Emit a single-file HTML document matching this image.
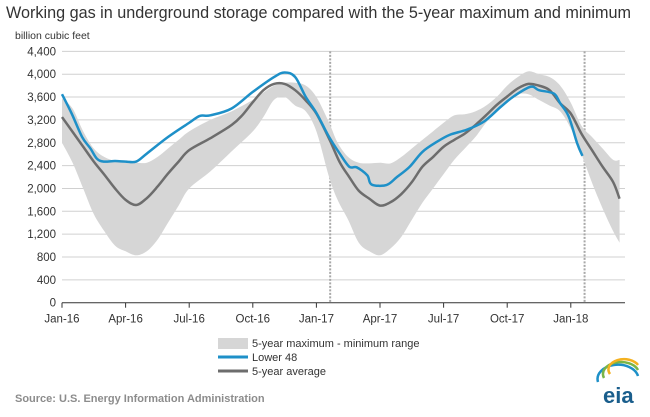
<!DOCTYPE html>
<html><head><meta charset="utf-8"><style>
body{margin:0;background:#fff;width:650px;height:412px;overflow:hidden;font-family:"Liberation Sans",Arial,sans-serif}
svg text{font-family:"Liberation Sans",Arial,sans-serif}
</style></head><body>
<svg id="chart" width="650" height="412">
<text x="6" y="18" font-size="16.2" fill="#333">Working gas in underground storage compared with the 5-year maximum and minimum</text>
<text x="15" y="39" font-size="10.5" fill="#333">billion cubic feet</text>
<g id="grid"></g><g id="band"></g><g id="lines"></g><g id="axes"></g>
<g>
<rect x="218" y="338" width="30" height="11" fill="#d6d6d6"/>
<text x="252" y="347" font-size="11" fill="#333">5-year maximum - minimum range</text>
<line x1="218" y1="357" x2="248" y2="357" stroke="#1e90c8" stroke-width="3"/>
<text x="252" y="361" font-size="11" fill="#333">Lower 48</text>
<line x1="218" y1="371" x2="248" y2="371" stroke="#6d6d6d" stroke-width="3"/>
<text x="252" y="375" font-size="11" fill="#333">5-year average</text>
</g>
<text x="15" y="402" font-size="11" font-weight="bold" fill="#8c8c8c">Source:  U.S. Energy Information Administration</text>
<g>
<path d="M598 382 a20 14 0 0 1 40 -6" fill="none" stroke="#1e90c8" stroke-width="2.5"/>
<path d="M604 378 a18 12 0 0 1 34 -8" fill="none" stroke="#7ab547" stroke-width="2.5"/>
<path d="M610 374 a15 10 0 0 1 28 -9" fill="none" stroke="#f4b120" stroke-width="2.5"/>
<text x="603" y="403" font-size="22" fill="#1a5e8c" font-weight="bold">eia</text>
</g>
</svg>
<script>
const yTicks=[0,400,800,1200,1600,2000,2400,2800,3200,3600,4000,4400];
const xLabels=["Jan-16","Apr-16","Jul-16","Oct-16","Jan-17","Apr-17","Jul-17","Oct-17","Jan-18"];
const xLabelMonths=[0,3,6,9,12,15,18,21,24];
const yearMarkers=[12.65,24.65];
const bandMonths=[0,0.5,1,1.5,2,2.5,3,3.5,4,4.5,5,5.5,6,7,8,9,9.5,10,10.5,11,11.5,12,12.6,13,13.5,14,14.5,15,15.5,16,16.5,17,17.5,18,18.5,19,19.5,20,20.5,21,21.5,22,22.5,23,23.5,24,24.5,25,25.5,26,26.3];
const maxValues=[3580,3400,3000,2700,2550,2480,2450,2450,2450,2550,2700,2850,3000,3200,3350,3550,3680,3800,3850,3850,3800,3600,3150,2800,2550,2450,2440,2450,2440,2550,2700,2850,3000,3150,3280,3300,3350,3450,3600,3800,3950,4050,4000,3950,3800,3500,3100,2900,2700,2500,2500];
const minValues=[2800,2450,2000,1550,1250,1000,900,830,900,1100,1400,1700,2000,2300,2650,3000,3250,3550,3600,3450,3350,3000,2200,1800,1450,1050,900,830,950,1150,1450,1750,2000,2250,2500,2700,2900,3150,3350,3550,3650,3650,3550,3450,3350,3050,2600,2100,1650,1250,1050];
const lowerMonths=[0,0.47,0.95,1.34,1.65,1.97,2.5,3,3.5,4,5,6,6.5,7,8,9,10,10.5,11,11.5,12,12.6,13.1,13.55,13.9,14.4,14.6,15.3,15.8,16.4,17,17.7,18.3,19.1,19.9,20.7,21.3,22.1,22.5,23.2,23.5,23.9,24.3,24.55];
const lowerValues=[3650,3300,2900,2700,2520,2470,2480,2470,2470,2610,2900,3150,3270,3280,3400,3690,3950,4030,3950,3600,3320,2900,2610,2380,2370,2230,2070,2060,2200,2380,2640,2820,2940,3030,3170,3430,3610,3780,3720,3660,3490,3260,2790,2570];
const avgMonths=[0,0.5,1,1.5,2,2.5,3,3.5,4,4.5,5,5.5,6,7,8,8.5,9,9.5,10,10.5,11,11.5,12,12.6,13.1,13.55,14,14.5,15,15.5,16,16.5,17,17.5,18,18.5,19,19.5,20,20.5,21,21.5,22,22.5,23,23.5,24,24.5,25,25.5,26,26.3];
const avgValues=[3250,2990,2730,2470,2240,2000,1800,1710,1830,2030,2260,2470,2670,2880,3110,3280,3510,3720,3830,3830,3720,3540,3310,2870,2460,2200,1960,1820,1700,1760,1900,2110,2380,2550,2730,2850,2960,3110,3280,3460,3610,3750,3830,3800,3720,3490,3310,2960,2670,2380,2110,1820];

const NS="http://www.w3.org/2000/svg";
const X0=62,PX_M=21.2,Y0=302.7,PX_V=22.85/400,XR=625;
const xs=m=>X0+m*PX_M, ys=v=>Y0-v*PX_V;
function mk(tag,attrs,parent){const e=document.createElementNS(NS,tag);for(const k in attrs)e.setAttribute(k,attrs[k]);document.getElementById(parent).appendChild(e);return e;}
function smooth(P,start){let d=start?'M'+P[0][0]+','+P[0][1]:'L'+P[0][0]+','+P[0][1];
  for(let i=0;i<P.length-1;i++){const p0=P[Math.max(0,i-1)],p1=P[i],p2=P[i+1],p3=P[Math.min(P.length-1,i+2)];
    const c1=[p1[0]+(p2[0]-p0[0])/6,p1[1]+(p2[1]-p0[1])/6],c2=[p2[0]-(p3[0]-p1[0])/6,p2[1]-(p3[1]-p1[1])/6];
    d+=' C'+c1+' '+c2+' '+p2;}return d;}
yTicks.forEach(v=>{
  if(v>0){const l=mk('line',{x1:X0,x2:XR,y1:ys(v),y2:ys(v),stroke:'#d0d0d0','stroke-width':1},'grid');
  
  }
  const t=mk('text',{x:X0-6,y:ys(v)+4,'font-size':11.5,fill:'#333','text-anchor':'end'},'axes');
  t.textContent=v.toLocaleString('en-US');
  
  
});
yearMarkers.forEach(m=>{
  const l=mk('line',{x1:xs(m),x2:xs(m),y1:ys(4400),y2:Y0,stroke:'#a8a8a8','stroke-width':2,'stroke-dasharray':'2,1.5'},'grid');
  
  
});
const upperPts=bandMonths.map((m,i)=>[xs(m),ys(maxValues[i])]);
const lowerPts=bandMonths.map((m,i)=>[xs(m),ys(minValues[i])]).reverse();
const band=mk('path',{d:smooth(upperPts,true)+' '+smooth(lowerPts,false)+' Z',fill:'#d6d6d6'},'band');


const avg=mk('path',{d:smooth(avgMonths.map((m,i)=>[xs(m),ys(avgValues[i])]),true),fill:'none',stroke:'#6d6d6d','stroke-width':2.5,'stroke-linejoin':'round'},'lines');


const low=mk('path',{d:smooth(lowerMonths.map((m,i)=>[xs(m),ys(lowerValues[i])]),true),fill:'none',stroke:'#1e90c8','stroke-width':2.5,'stroke-linejoin':'round'},'lines');


const ax=mk('line',{x1:X0,x2:XR,y1:Y0,y2:Y0,stroke:'#333','stroke-width':1},'axes');


xLabelMonths.forEach((m,i)=>{
  const tk=mk('line',{x1:xs(m),x2:xs(m),y1:Y0,y2:Y0+5,stroke:'#333'},'axes');
  
  
  const t=mk('text',{x:xs(m),y:Y0+20,'font-size':11.5,fill:'#333','text-anchor':'middle'},'axes');
  t.textContent=xLabels[i];
  
  
});
</script>
</body></html>
